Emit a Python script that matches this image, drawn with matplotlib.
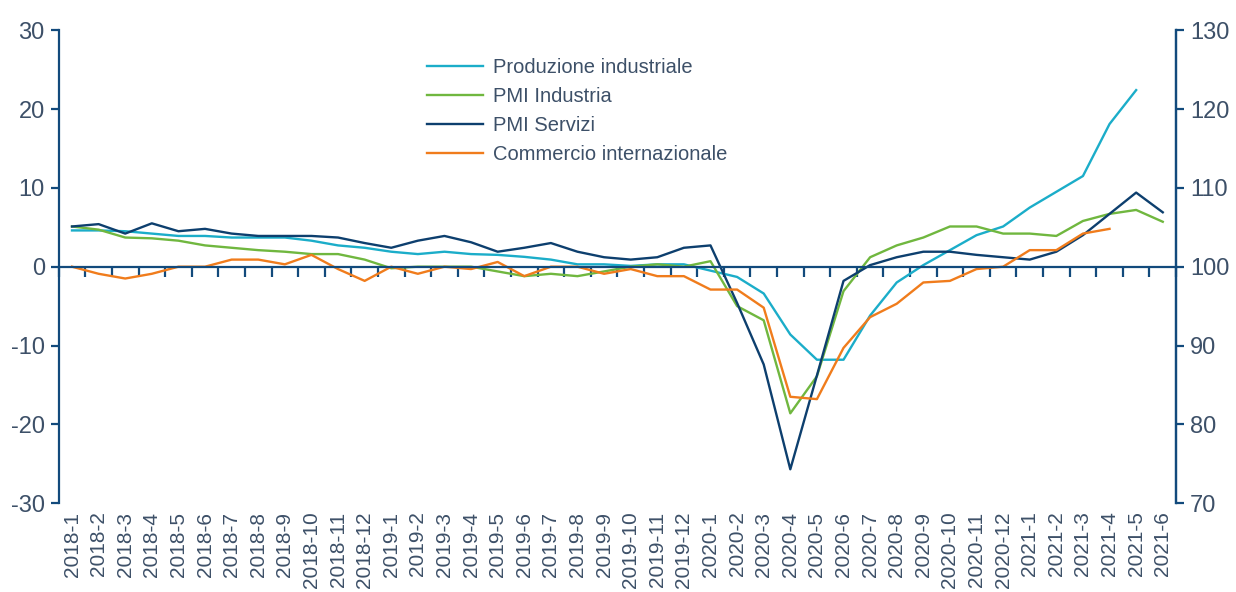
"""Produzione industriale, PMI e commercio internazionale, 2018-2021."""
import matplotlib
matplotlib.use("Agg")
import matplotlib.pyplot as plt
import numpy as np

plt.rcParams["font.family"] = ["Liberation Sans Narrow", "Liberation Sans", "DejaVu Sans"]
plt.rcParams["axes.unicode_minus"] = False

months = [f"{y}-{m}" for y in (2018, 2019, 2020) for m in range(1, 13)] + \
         [f"2021-{m}" for m in range(1, 7)]

produzione = [4.6, 4.6, 4.5, 4.2, 3.9, 3.9, 3.7, 3.7, 3.7, 3.3, 2.7, 2.4,
              1.9, 1.6, 1.9, 1.6, 1.5, 1.25, 0.9, 0.3, 0.3, 0.1, 0.3, 0.3,
              -0.5, -1.3, -3.4, -8.6, -11.8, -11.8, -6.2, -2.0, 0.2, 2.1, 4.0, 5.1,
              7.5, 9.5, 11.5, 18.1, 22.4, None]
pmi_industria = [5.1, 4.7, 3.7, 3.6, 3.3, 2.7, 2.4, 2.1, 1.9, 1.6, 1.6, 0.9,
                 -0.2, 0.0, 0.0, 0.0, -0.6, -1.2, -0.9, -1.2, -0.6, 0.0, 0.3, 0.0,
                 0.7, -5.0, -6.8, -18.6, -13.9, -3.1, 1.2, 2.7, 3.7, 5.1, 5.1, 4.2,
                 4.2, 3.9, 5.8, 6.7, 7.2, 5.7]
pmi_servizi = [5.1, 5.4, 4.2, 5.5, 4.5, 4.8, 4.2, 3.9, 3.9, 3.9, 3.7, 3.0,
               2.4, 3.3, 3.9, 3.1, 1.9, 2.4, 3.0, 1.9, 1.2, 0.9, 1.2, 2.4,
               2.7, -4.6, -12.4, -25.7, -13.8, -1.8, 0.2, 1.2, 1.9, 1.9, 1.5, 1.2,
               0.9, 1.9, 4.0, 6.7, 9.4, 6.9]
commercio = [0.0, -0.9, -1.5, -0.9, 0.0, 0.0, 0.9, 0.9, 0.3, 1.5, -0.3, -1.8,
             0.0, -0.9, 0.0, -0.3, 0.6, -1.2, 0.0, 0.0, -0.9, -0.3, -1.2, -1.2,
             -2.9, -2.9, -5.2, -16.5, -16.8, -10.3, -6.4, -4.7, -2.0, -1.8, -0.3, 0.0,
             2.1, 2.1, 4.2, 4.8, None, None]

series = [
    ("Produzione industriale", produzione, "#1badc9"),
    ("PMI Industria", pmi_industria, "#70b73f"),
    ("PMI Servizi", pmi_servizi, "#0d3f6e"),
    ("Commercio internazionale", commercio, "#f07c1c"),
]

AXIS = "#124a7c"
TEXT = "#3d5068"


def to_array(values):
    return np.array([np.nan if v is None else v for v in values], dtype=float)


fig = plt.figure(figsize=(12.36, 5.92), dpi=100)
ax = fig.add_axes([0.0475, 0.150, 0.904, 0.799])
x = np.arange(len(months))

for name, values, color in series:
    ax.plot(x, to_array(values), color=color, lw=1.7, label=name)

ax.set_xlim(-0.5, len(months) - 0.5)
ax.set_ylim(-30, 30)
ax.set_yticks(range(-30, 31, 10))

# zero line carries the month separators
ax.spines["top"].set_visible(False)
ax.spines["bottom"].set_position(("data", 0))
ax.spines["bottom"].set_color(AXIS)
ax.spines["bottom"].set_linewidth(1.6)
ax.set_xticks(np.arange(len(months) + 1) - 0.5)
ax.tick_params(axis="x", length=7, width=1.6, color=AXIS, direction="out",
               labelbottom=False)
for side in ("left", "right"):
    ax.spines[side].set_color(AXIS)
    ax.spines[side].set_linewidth(1.6)
ax.tick_params(axis="y", length=6, width=1.6, color=AXIS, labelcolor=TEXT,
               labelsize=17, pad=4)

axr = ax.twinx()
axr.set_ylim(70, 130)
axr.set_yticks(range(70, 131, 10))
axr.spines["top"].set_visible(False)
axr.spines["bottom"].set_visible(False)
axr.spines["left"].set_visible(False)
axr.spines["right"].set_color(AXIS)
axr.spines["right"].set_linewidth(1.6)
axr.tick_params(axis="y", length=6, width=1.6, color=AXIS, labelcolor=TEXT,
                labelsize=17, pad=4)

sec = ax.secondary_xaxis("bottom")
sec.spines["bottom"].set_visible(False)
sec.set_xticks(x)
sec.set_xticklabels(months, rotation=90, va="top", ha="center")
sec.tick_params(axis="x", length=0, labelsize=15, labelcolor=TEXT, pad=6)

leg = ax.legend(loc="upper left", bbox_to_anchor=(0.322, 0.958), frameon=False,
                fontsize=14.5, handlelength=2.8, labelspacing=0.5, handletextpad=0.5,
                borderaxespad=0)
for t in leg.get_texts():
    t.set_color(TEXT)

fig.savefig("out.png", dpi=100)
